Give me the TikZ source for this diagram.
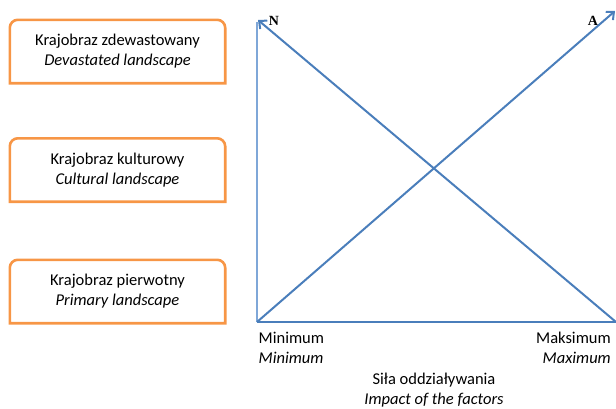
\documentclass[tikz,border=0pt]{standalone}
\usepackage{fontspec}
\setmainfont{Carlito}
\newfontfamily\timesfont{Liberation Serif}
\usetikzlibrary{arrows.meta}
\definecolor{boxorange}{HTML}{F79646}
\definecolor{lineblue}{HTML}{4A7EBB}
\definecolor{lightblue}{HTML}{7FA7D8}
\tikzset{
  txt/.style={font=\fontsize{16.5}{20}\selectfont, inner sep=0pt},
  boxtext/.style={txt, align=center, minimum width=215pt, minimum height=63pt},
  boxline/.style={draw=boxorange, line width=2.6pt},
  axisline/.style={draw=lineblue, line width=1.3pt},
  vertline/.style={draw=lightblue, line width=1.5pt},
  diagline/.style={draw=lineblue, line width=2pt, -{Straight Barb[length=6pt,width=11pt,line width=2pt]}},
  letter/.style={font=\timesfont\bfseries\fontsize{14}{14}\selectfont, inner sep=0pt}
}
\newcommand{\roundtopbox}[1]{%
  \draw[boxline] (#1.south west) -- ([yshift=-8pt]#1.north west)
    arc[start angle=180,end angle=270,radius=8] -- ([xshift=-8pt]#1.north east)
    arc[start angle=270,end angle=360,radius=8] -- (#1.south east) -- cycle;}
\begin{document}
\begin{tikzpicture}[x=1pt,y=-1pt]
\useasboundingbox (0,0) rectangle (616,408);
% boxes
\node[boxtext] (b1) at (117.5,51.5) {Krajobraz zdewastowany\\\textit{Devastated landscape}};
\node[boxtext] (b2) at (117.5,170) {Krajobraz kulturowy\\\textit{Cultural landscape}};
\node[boxtext] (b3) at (117.5,291.5) {Krajobraz pierwotny\\\textit{Primary landscape}};
\roundtopbox{b1}
\roundtopbox{b2}
\roundtopbox{b3}
% axes
\coordinate (O) at (257,322);
\coordinate (Ytop) at (257,22);
\coordinate (X) at (616,322);
\coordinate (Ntip) at (258,20);
\coordinate (Atip) at (615,11);
\draw[vertline] (O) -- (Ytop);
\draw[axisline] (O) -- (X);
\draw[diagline] (X) -- (Ntip);
\draw[diagline] (O) -- (Atip);
\node[letter] (N) at (274,21) {N};
\node[letter] (A) at (593,21) {A};
% axis labels
\node[txt, align=left, anchor=west] (min) at (258.5,348) {Minimum\\\textit{Minimum}};
\node[txt, align=right, anchor=east] (max) at (611,348) {Maksimum\\\textit{Maximum}};
\node[txt, align=center] (force) at (434,390) {Siła oddziaływania\\\textit{Impact of the factors}};
\end{tikzpicture}
\end{document}
